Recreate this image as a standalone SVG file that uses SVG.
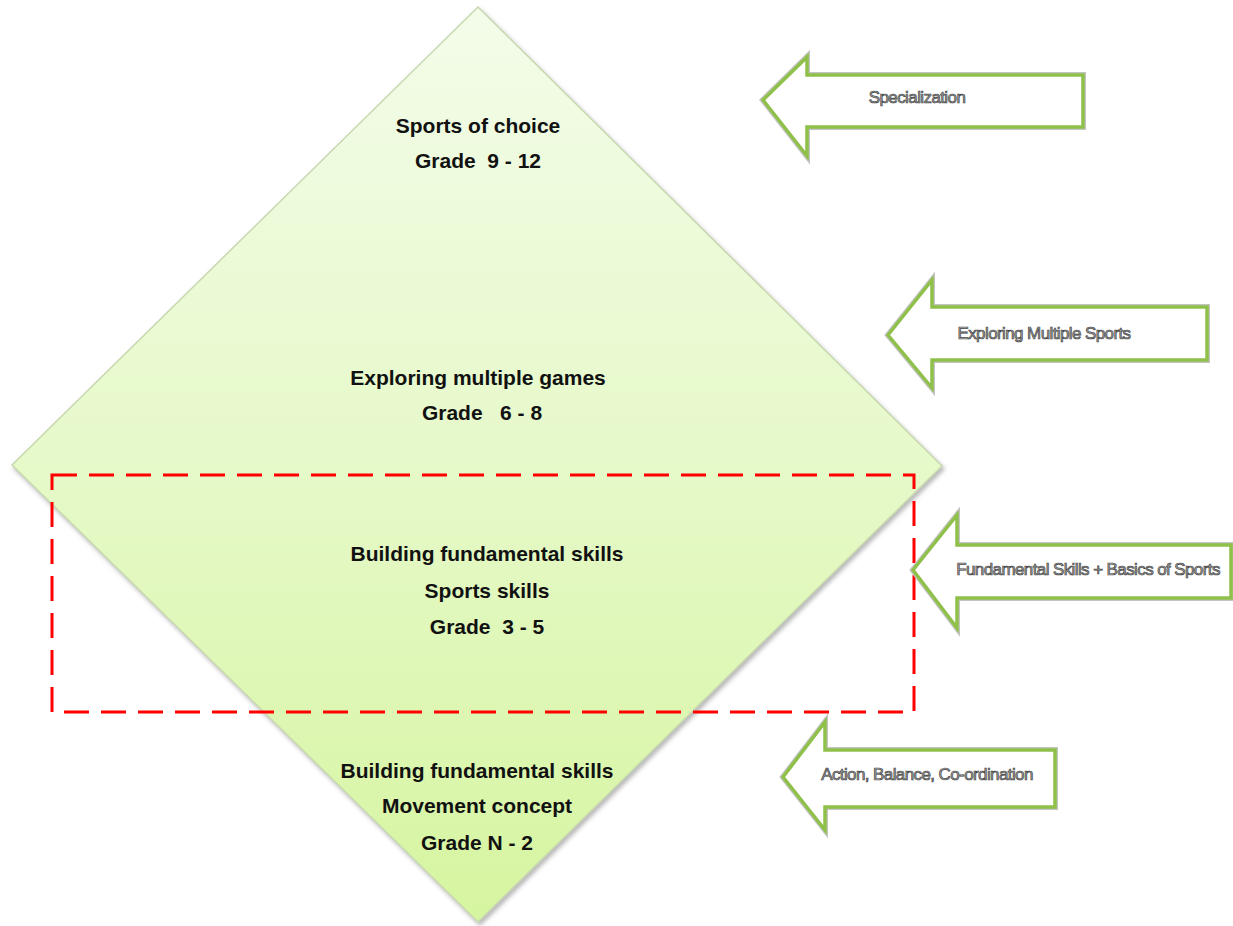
<svg xmlns="http://www.w3.org/2000/svg" width="1233" height="926" viewBox="0 0 1233 926">
<defs>
<linearGradient id="dg" x1="0" y1="0" x2="0" y2="1">
<stop offset="0" stop-color="#f3fce9"/>
<stop offset="0.5" stop-color="#e6f9c9"/>
<stop offset="1" stop-color="#d6f5a0"/>
</linearGradient>
<filter id="sh" x="-5%" y="-5%" width="110%" height="110%">
<feDropShadow dx="2" dy="3" stdDeviation="2" flood-color="#888" flood-opacity="0.6"/>
</filter>
</defs>
<style>
.dia{fill:url(#dg);stroke:#c8d8b0;stroke-width:1.5}
.main{font-family:"Liberation Sans",Arial,sans-serif;font-weight:bold;font-size:21px;fill:#111;text-anchor:middle;white-space:pre}
.arrbg{fill:none;stroke:#c4c4c4;stroke-width:6;stroke-linejoin:miter}
.arr{fill:#fff;stroke:#8fc04a;stroke-width:3.5;stroke-linejoin:miter}
.lab{font-family:"Liberation Sans",Arial,sans-serif;font-size:17px;fill:#a8a8a8;stroke:#444;stroke-width:0.7;text-anchor:middle;letter-spacing:-0.6px}
.red{fill:none;stroke:#ff0000;stroke-width:3;stroke-dasharray:25 12}
</style>
<rect width="1233" height="926" fill="#fff"/>
<g id="diamond">
<polygon class="dia" filter="url(#sh)" points="478,7 942,466 478,922 12,465"/>
<text class="main" x="478" y="133">Sports of choice</text>
<text class="main" x="478" y="168">Grade  9 - 12</text>
<text class="main" x="478" y="385">Exploring multiple games</text>
<text class="main" x="482" y="420">Grade   6 - 8</text>
<text class="main" x="487" y="561">Building fundamental skills</text>
<text class="main" x="487" y="598">Sports skills</text>
<text class="main" x="487" y="634">Grade  3 - 5</text>
<text class="main" x="477" y="778">Building fundamental skills</text>
<text class="main" x="477" y="813">Movement concept</text>
<text class="main" x="477" y="850">Grade N - 2</text>
</g>
<g id="highlight">
<rect class="red" x="52" y="475" width="862" height="237"/>
</g>
<g id="arrow-specialization">
<polygon class="arrbg" points="763,100 807,57 807,75 1083,75 1083,127 807,127 807,156"/>
<polygon class="arr" points="763,100 807,57 807,75 1083,75 1083,127 807,127 807,156"/>
<text class="lab" x="917" y="103">Specialization</text>
</g>
<g id="arrow-exploring">
<polygon class="arrbg" points="888,335 932,280 932,307 1207,307 1207,360 932,360 932,388"/>
<polygon class="arr" points="888,335 932,280 932,307 1207,307 1207,360 932,360 932,388"/>
<text class="lab" x="1044" y="339">Exploring Multiple Sports</text>
</g>
<g id="arrow-fundamental">
<polygon class="arrbg" points="913,570 957,515 957,545 1231,545 1231,598 957,598 957,628"/>
<polygon class="arr" points="913,570 957,515 957,545 1231,545 1231,598 957,598 957,628"/>
<text class="lab" x="1088" y="575">Fundamental Skills + Basics of Sports</text>
</g>
<g id="arrow-action">
<polygon class="arrbg" points="783,777 825,722 825,750 1055,750 1055,807 825,807 825,830"/>
<polygon class="arr" points="783,777 825,722 825,750 1055,750 1055,807 825,807 825,830"/>
<text class="lab" x="927" y="780">Action, Balance, Co-ordination</text>
</g>
</svg>
